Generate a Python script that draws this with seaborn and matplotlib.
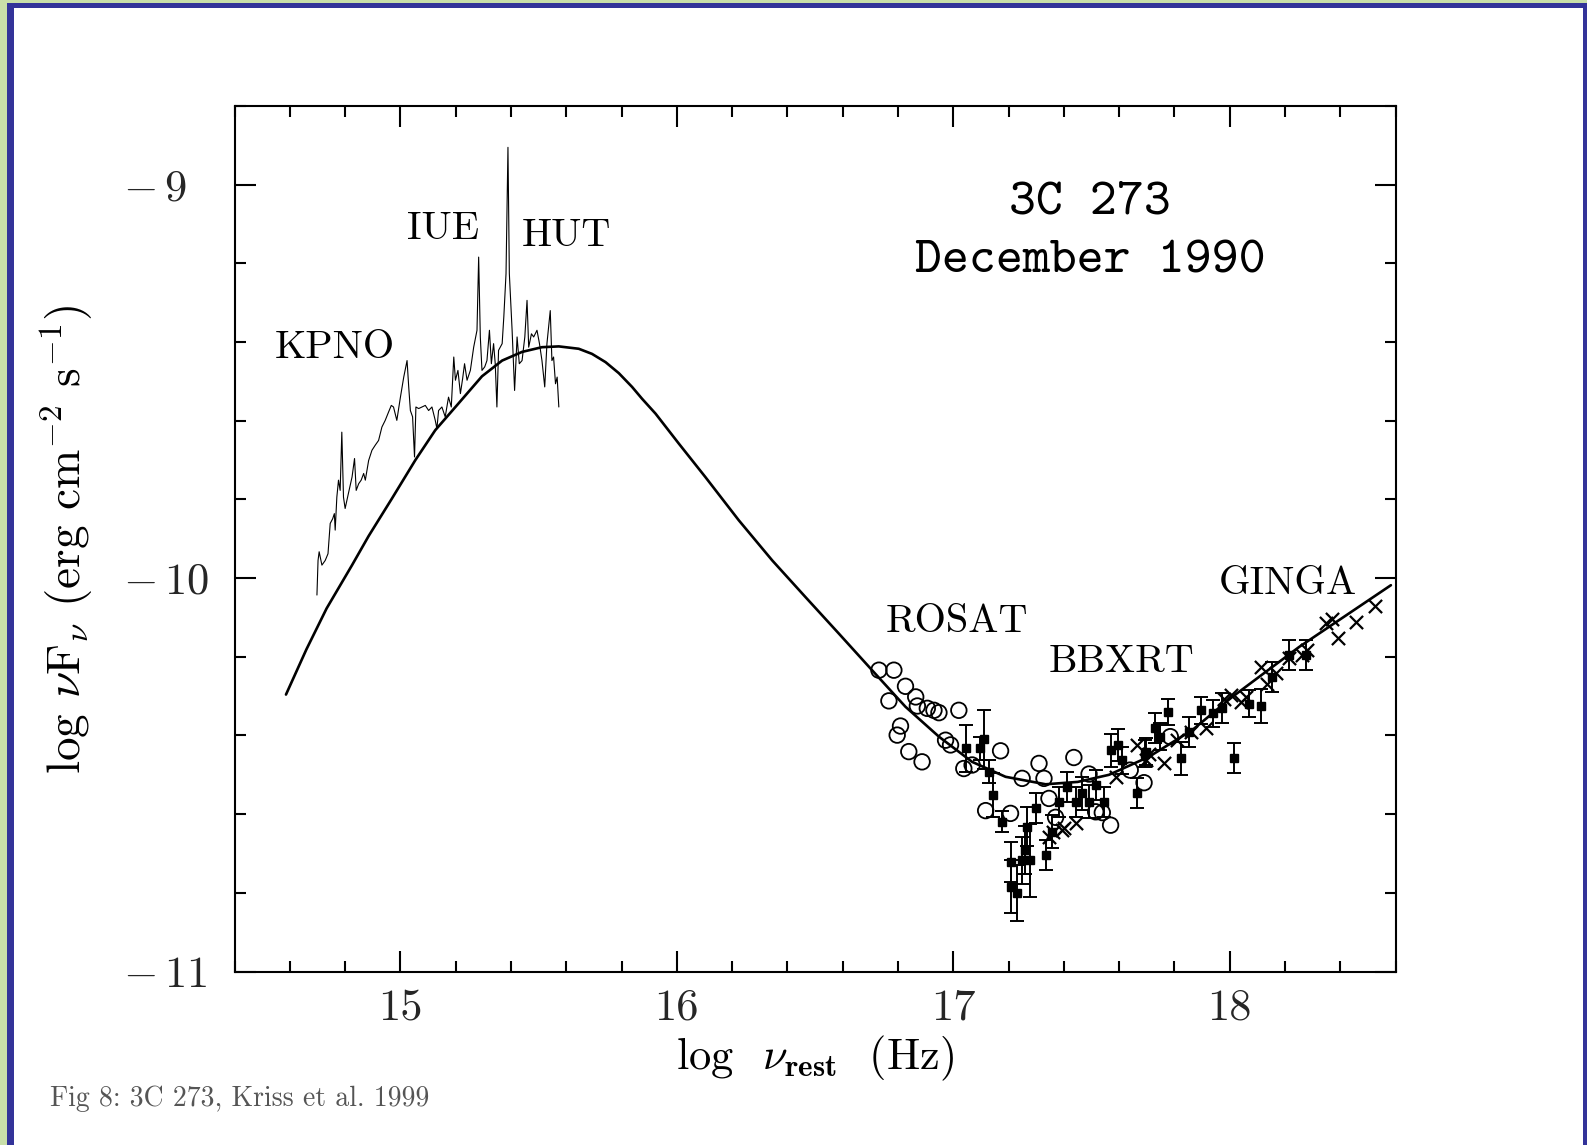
import numpy as np
import pandas as pd
import matplotlib
matplotlib.use("Agg")
import matplotlib.pyplot as plt
import seaborn as sns
from matplotlib.patches import Rectangle
from matplotlib.ticker import FixedLocator, FixedFormatter, MultipleLocator

# ---------------- data (log nu [Hz], log nuFnu) ----------------
spec_x = [14.698, 14.702, 14.706, 14.716, 14.728, 14.738, 14.746, 14.755, 14.761, 14.764,
          14.770, 14.776, 14.782, 14.788, 14.794, 14.800, 14.813, 14.825, 14.834, 14.840,
          14.849, 14.858, 14.867, 14.873, 14.885, 14.897, 14.909, 14.921, 14.933, 14.945,
          14.957, 14.967, 14.975, 14.987, 15.000, 15.012, 15.024, 15.030, 15.036, 15.044,
          15.051, 15.056, 15.066, 15.078, 15.090, 15.102, 15.114, 15.126, 15.132, 15.138,
          15.150, 15.162, 15.174, 15.184, 15.193, 15.199, 15.208, 15.217, 15.225, 15.232,
          15.241, 15.253, 15.265, 15.277, 15.283, 15.289, 15.295, 15.305, 15.313, 15.322,
          15.329, 15.337, 15.343, 15.349, 15.355, 15.368, 15.374, 15.382, 15.389, 15.394,
          15.404, 15.413, 15.422, 15.430, 15.440, 15.450, 15.458, 15.464, 15.474, 15.482,
          15.494, 15.503, 15.512, 15.522, 15.530, 15.542, 15.548, 15.554, 15.561, 15.567,
          15.573]
spec_y = [-10.043, -9.955, -9.933, -9.967, -9.955, -9.938, -9.861, -9.849, -9.836, -9.878,
          -9.794, -9.751, -9.777, -9.629, -9.794, -9.823, -9.781, -9.743, -9.696, -9.777,
          -9.760, -9.751, -9.734, -9.751, -9.701, -9.675, -9.662, -9.650, -9.616, -9.599,
          -9.578, -9.561, -9.565, -9.599, -9.540, -9.489, -9.447, -9.514, -9.574, -9.590,
          -9.692, -9.565, -9.569, -9.565, -9.561, -9.574, -9.565, -9.599, -9.620, -9.574,
          -9.565, -9.590, -9.540, -9.565, -9.438, -9.497, -9.472, -9.531, -9.493, -9.455,
          -9.497, -9.472, -9.413, -9.370, -9.184, -9.387, -9.472, -9.463, -9.447, -9.370,
          -9.455, -9.404, -9.455, -9.565, -9.421, -9.404, -9.336, -9.226, -8.905, -9.226,
          -9.370, -9.523, -9.387, -9.455, -9.447, -9.387, -9.294, -9.413, -9.379, -9.387,
          -9.370, -9.404, -9.447, -9.514, -9.404, -9.320, -9.447, -9.438, -9.506, -9.489,
          -9.565]

model_x = [14.586, 14.660, 14.733, 14.825, 14.885, 14.969, 15.054, 15.126, 15.199, 15.295,
           15.368, 15.440, 15.512, 15.573, 15.645, 15.693, 15.742, 15.790, 15.838, 15.874,
           15.923, 16.007, 16.103, 16.224, 16.345, 16.465, 16.586, 16.706, 16.827, 16.948,
           17.068, 17.189, 17.334, 17.450, 17.563, 17.708, 17.865, 18.009, 18.251, 18.583]
model_y = [-10.296, -10.181, -10.077, -9.967, -9.893, -9.798, -9.700, -9.624, -9.565, -9.487,
           -9.447, -9.425, -9.413, -9.411, -9.417, -9.430, -9.451, -9.479, -9.514, -9.544,
           -9.582, -9.658, -9.743, -9.853, -9.955, -10.048, -10.141, -10.234, -10.327, -10.403,
           -10.467, -10.505, -10.524, -10.518, -10.500, -10.454, -10.386, -10.302, -10.175,
           -10.018]

rosat_x = [16.731, 16.785, 16.827, 16.864, 16.767, 16.870, 16.906, 16.930, 16.948, 17.020,
           16.809, 16.797, 16.839, 16.887, 16.972, 16.990, 17.171, 17.038, 17.068, 17.249,
           17.310, 17.328, 17.117, 17.207, 17.436, 17.346, 17.370, 17.491, 17.515, 17.569,
           17.539, 17.640, 17.690, 17.785]
rosat_y = [-10.234, -10.234, -10.275, -10.302, -10.312, -10.325, -10.331, -10.336, -10.342, -10.336,
           -10.376, -10.399, -10.441, -10.467, -10.412, -10.424, -10.439, -10.484, -10.475, -10.509,
           -10.471, -10.509, -10.591, -10.598, -10.456, -10.560, -10.608, -10.498, -10.594, -10.628,
           -10.596, -10.488, -10.520, -10.403]

bbxrt_x = [17.046, 17.111, 17.095, 17.128, 17.143, 17.177, 17.207, 17.207, 17.231, 17.249,
           17.261, 17.279, 17.267, 17.298, 17.334, 17.358, 17.382, 17.412, 17.443, 17.467,
           17.491, 17.515, 17.545, 17.569, 17.597, 17.612, 17.666, 17.693, 17.698, 17.729,
           17.748, 17.777, 17.822, 17.851, 17.897, 17.939, 17.972, 18.015, 18.070, 18.114,
           18.154, 18.215, 18.275]
bbxrt_y = [-10.433, -10.410, -10.433, -10.492, -10.551, -10.619, -10.721, -10.784, -10.800, -10.717,
           -10.691, -10.717, -10.632, -10.585, -10.704, -10.645, -10.568, -10.530, -10.568, -10.547,
           -10.568, -10.526, -10.568, -10.437, -10.424, -10.463, -10.547, -10.446, -10.441, -10.382,
           -10.403, -10.340, -10.458, -10.391, -10.336, -10.344, -10.331, -10.458, -10.319, -10.325,
           -10.251, -10.196, -10.196]
bbxrt_err = [0.059, 0.076, 0.030, 0.030, 0.055, 0.027, 0.051, 0.068, 0.072, 0.060,
             0.060, 0.093, 0.050, 0.038, 0.038, 0.042, 0.038, 0.038, 0.038, 0.042,
             0.042, 0.038, 0.038, 0.042, 0.040, 0.035, 0.038, 0.034, 0.035, 0.038,
             0.035, 0.034, 0.042, 0.038, 0.034, 0.034, 0.038, 0.038, 0.034, 0.042,
             0.038, 0.038, 0.038]

ginga_x = [18.527, 18.456, 18.371, 18.347, 18.393, 18.281, 18.263, 18.215, 18.167, 18.112,
           18.136, 18.058, 18.040, 18.004, 17.980, 17.913, 17.859, 17.762, 17.666, 17.708,
           17.588, 17.697, 17.394, 17.361, 17.443, 17.810, 17.346, 17.400]
ginga_y = [-10.071, -10.111, -10.103, -10.115, -10.151, -10.183, -10.196, -10.204, -10.242, -10.226,
           -10.268, -10.302, -10.314, -10.297, -10.306, -10.382, -10.391, -10.471, -10.424, -10.446,
           -10.505, -10.463, -10.640, -10.645, -10.623, -10.412, -10.657, -10.636]

x_ticks = [15, 16, 17, 18]
x_ticklabels = ["15", "16", "17", "18"]
y_ticks = [-11, -10, -9]
y_ticklabels = [r"$-\,$11", r"$-\,$10", r"$-\,$9"]

labels_text = ["KPNO", "IUE", "HUT", "ROSAT", "BBXRT", "GINGA"]
labels_x = [14.546, 15.022, 15.440, 16.755, 17.345, 17.960]
labels_y = [-9.416, -9.113, -9.131, -10.113, -10.213, -10.015]

# ---------------- style ----------------
sns.set_theme(style="ticks")
plt.rcParams["font.family"] = ["cmr10", "DejaVu Serif"]
plt.rcParams["mathtext.fontset"] = "cm"
plt.rcParams["axes.unicode_minus"] = False

fig = plt.figure(figsize=(15.87, 11.45), dpi=100)
fig.patch.set_facecolor("white")
# page frame
fig.patches.append(Rectangle((0, 0), 1, 1, transform=fig.transFigure,
                             facecolor="#c9dfa9", edgecolor="none", zorder=-30))
fig.patches.append(Rectangle((7 / 1587, -0.1), 1.2, (1145 - 3) / 1145 + 0.1,
                             transform=fig.transFigure, facecolor="#333399",
                             edgecolor="none", zorder=-29))
fig.patches.append(Rectangle((14 / 1587, -0.1), (1583 - 14) / 1587, (1145 - 8) / 1145 + 0.1,
                             transform=fig.transFigure, facecolor="white",
                             edgecolor="none", zorder=-28))

ax = fig.add_axes([0.1478, 0.1515, 0.7316, 0.7559])
ax.set_facecolor("white")

spec_df = pd.DataFrame({"x": spec_x, "y": spec_y})
model_df = pd.DataFrame({"x": model_x, "y": model_y})

sns.lineplot(data=spec_df, x="x", y="y", ax=ax, color="black", lw=0.8,
             sort=False, estimator=None)
sns.lineplot(data=model_df, x="x", y="y", ax=ax, color="black", lw=1.9,
             sort=False, estimator=None)

sns.scatterplot(x=rosat_x, y=rosat_y, ax=ax, marker="o", s=125,
                facecolor="none", edgecolor="black", linewidth=1.3, zorder=3)
ax.errorbar(bbxrt_x, bbxrt_y, yerr=bbxrt_err, fmt="s", ms=6, color="black",
            ecolor="black", elinewidth=1.4, capsize=5, capthick=1.4, zorder=4)
sns.scatterplot(x=ginga_x, y=ginga_y, ax=ax, marker="x", s=90,
                color="black", linewidth=1.6, zorder=5)

for t, lx, ly in zip(labels_text, labels_x, labels_y):
    ax.text(lx, ly, t, fontsize=29, ha="left", va="center", color="black")

ax.text(17.494, -9.049, "3C 273", family="cmtt10", fontsize=37,
        ha="center", va="center", color="black")
ax.text(17.494, -9.199, "December 1990", family="cmtt10", fontsize=37,
        ha="center", va="center", color="black")

ax.set_xlim(14.4, 18.6)
ax.set_ylim(-11.0, -8.8)
ax.xaxis.set_major_locator(FixedLocator(x_ticks))
ax.xaxis.set_major_formatter(FixedFormatter(x_ticklabels))
ax.xaxis.set_minor_locator(MultipleLocator(0.2))
ax.yaxis.set_major_locator(FixedLocator(y_ticks))
ax.yaxis.set_major_formatter(FixedFormatter(y_ticklabels))
ax.yaxis.set_minor_locator(MultipleLocator(0.2))

ax.tick_params(which="both", direction="in", top=True, right=True,
               width=1.5, color="black")
ax.tick_params(which="major", length=15, labelsize=32)
ax.tick_params(which="minor", length=7.7)
ax.tick_params(axis="x", pad=12)
ax.tick_params(axis="y", pad=80)
for lab in ax.get_yticklabels():
    lab.set_horizontalalignment("left")
for sp in ax.spines.values():
    sp.set_color("black")
    sp.set_linewidth(1.5)
    sp.set_visible(True)

ax.set_xlabel(r"log  $\nu_{\mathbf{rest}}$  (Hz)", fontsize=32, labelpad=4, color="black")
ax.set_ylabel(r"log $\nu$F$_\nu$ (erg cm$^{-2}$ s$^{-1}$)", fontsize=34, labelpad=0,
              color="black")
ax.yaxis.set_label_coords(-0.120, 0.5)

fig.text(50 / 1587, 1 - 1099 / 1145, "Fig 8: 3C 273, Kriss et al. 1999",
         fontsize=20, color="#555555", ha="left", va="center")

fig.savefig("out.png", dpi=100)
